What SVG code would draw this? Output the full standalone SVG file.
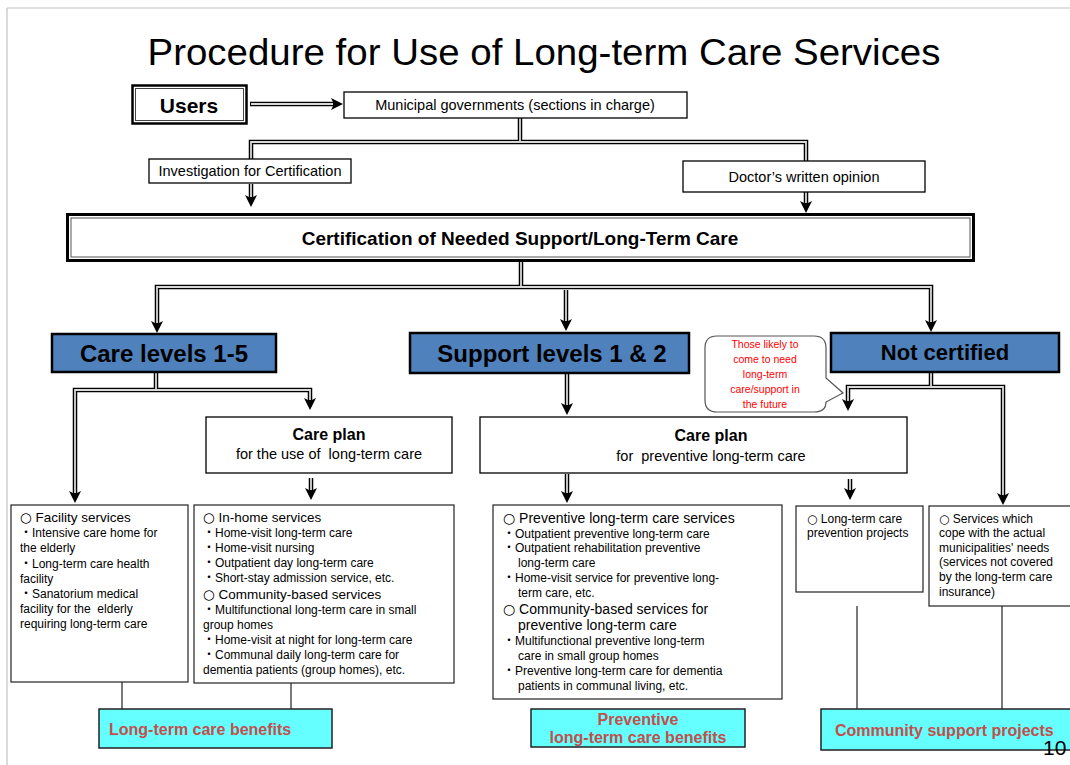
<svg xmlns="http://www.w3.org/2000/svg" width="1070" height="765" viewBox="0 0 1070 765">
<style>
text{font-family:"Liberation Sans","Noto Sans CJK JP",sans-serif;white-space:pre;fill:#000}
.cj{font-family:"DejaVu Sans","Noto Sans CJK JP",sans-serif}
.title{font-size:37px}
.cal{font-size:14.5px}
.calb{font-size:16px;font-weight:bold}
.big{font-size:24px;font-weight:bold}
.t{font-size:12px}
.h{font-size:13.5px}
.lab{font-size:16px;font-weight:bold;fill:#C0504D}
.red{font-size:10.5px;fill:#FF0000}
.box{fill:#fff;stroke:#000;stroke-width:1.3}
.sbox{fill:#fff;stroke:#222;stroke-width:1.2}
.blue{fill:#4F81BD;stroke:#000;stroke-width:2.5}
.cyan{fill:#66FFFF;stroke:#222;stroke-width:1.5}
.dlo{fill:none;stroke:#000;stroke-width:4.5;stroke-linejoin:miter}
.dli{fill:none;stroke:#d8d8d8;stroke-width:1.8;stroke-linejoin:miter}
.thin{fill:none;stroke:#222;stroke-width:1.2}
.mid{text-anchor:middle}
</style>
<defs>
<marker id="ah" markerUnits="userSpaceOnUse" markerWidth="12" markerHeight="12" viewBox="0 0 12 12" refX="4" refY="6" orient="auto-start-reverse">
<path d="M0,0 L12,6 L0,12 L3,6 Z" fill="#000"/>
</marker>
</defs>

<path d="M7,8 H1070 M7,8 V765" fill="none" stroke="#c4c4c4" stroke-width="1.2"/>

<text class="title mid" x="544" y="65" textLength="793" lengthAdjust="spacingAndGlyphs">Procedure for Use of Long-term Care Services</text>

<g id="connectors">
  <path class="dlo" d="M250,104 H335" marker-end="url(#ah)"/>
  <path class="dli" d="M251,104 H333"/>
  <path class="dlo" d="M520,118 V142 M251,159 V142 H806 V161"/>
  <path class="dli" d="M520,118 V142 M251,159 V142 H806 V161"/>
  <path class="dlo" d="M251,184 V199" marker-end="url(#ah)"/>
  <path class="dli" d="M251,184 V197"/>
  <path class="dlo" d="M806,192 V205" marker-end="url(#ah)"/>
  <path class="dli" d="M806,192 V203"/>
  <path class="dlo" d="M521,262 V287"/>
  <path class="dlo" d="M157,325 V287 H931 V324" marker-start="url(#ah)" marker-end="url(#ah)"/>
  <path class="dli" d="M521,262 V287"/>
  <path class="dli" d="M157,323 V287 H931 V322"/>
  <path class="dlo" d="M566,290 V323" marker-end="url(#ah)"/>
  <path class="dli" d="M566,290 V321"/>
  <path class="dlo" d="M156,373 V390"/>
  <path class="dlo" d="M75,495 V390 H310 V402" marker-start="url(#ah)" marker-end="url(#ah)"/>
  <path class="dli" d="M156,373 V390"/>
  <path class="dli" d="M75,493 V390 H310 V400"/>
  <path class="dlo" d="M311,478 V492" marker-end="url(#ah)"/>
  <path class="dli" d="M311,478 V490"/>
  <path class="dlo" d="M567,374 V407" marker-end="url(#ah)"/>
  <path class="dli" d="M567,374 V405"/>
  <path class="dlo" d="M931,372 V387"/>
  <path class="dlo" d="M848,403 V387 H1003 V497" marker-start="url(#ah)" marker-end="url(#ah)"/>
  <path class="dli" d="M931,372 V387"/>
  <path class="dli" d="M848,401 V387 H1003 V495"/>
  <path class="dlo" d="M567,474 V495" marker-end="url(#ah)"/>
  <path class="dli" d="M567,474 V493"/>
  <path class="dlo" d="M850,479 V492" marker-end="url(#ah)"/>
  <path class="dli" d="M850,479 V490"/>
  <path class="thin" d="M122,682 V709 M291,683 V709 M857,606 V709 M1002,606 V709"/>
</g>

<g id="users">
  <rect x="132.5" y="85.5" width="114" height="38" fill="#fff" stroke="#000" stroke-width="2.5"/>
  <rect x="135.5" y="88.5" width="108" height="32" fill="none" stroke="#444" stroke-width="1"/>
  <text x="189" y="113" class="mid" style="font-size:21px;font-weight:bold">Users</text>
</g>

<g id="municipal">
  <rect class="box" x="344" y="92" width="343" height="26"/>
  <text class="cal mid" x="515" y="110">Municipal governments (sections in charge)</text>
</g>

<g id="investigation">
  <rect class="box" x="149" y="159" width="202" height="24"/>
  <text class="cal mid" x="250" y="176">Investigation for Certification</text>
</g>

<g id="doctor">
  <rect class="box" x="683" y="161" width="242" height="31"/>
  <text class="cal mid" x="804" y="182">Doctor’s written opinion</text>
</g>

<g id="certification">
  <rect x="67.5" y="214.5" width="906" height="46" fill="#fff" stroke="#000" stroke-width="3"/>
  <rect x="71" y="218" width="899" height="39" fill="none" stroke="#555" stroke-width="1"/>
  <text class="mid" x="520" y="245" style="font-size:19px;font-weight:bold">Certification of Needed Support/Long-Term Care</text>
</g>

<g id="care-levels">
  <rect class="blue" x="52" y="334" width="224" height="38"/>
  <text class="big mid" x="164" y="362">Care levels 1-5</text>
</g>

<g id="support-levels">
  <rect class="blue" x="410" y="333" width="279" height="40"/>
  <text class="big mid" x="552" y="362">Support levels 1 &amp; 2</text>
</g>

<g id="not-certified">
  <rect class="blue" x="831" y="333" width="228" height="39"/>
  <text class="mid" x="945" y="360" style="font-size:22px;font-weight:bold">Not certified</text>
</g>

<g id="callout">
  <path d="M717,336 H814 Q826,336 826,348 V378 L843,393 L826,402 Q826,412 814,412 H717 Q705,412 705,400 V348 Q705,336 717,336 Z" fill="#fff" stroke="#555" stroke-width="1.2"/>
  <text class="red mid" x="765" y="348">Those likely to</text>
  <text class="red mid" x="765" y="363">come to need</text>
  <text class="red mid" x="765" y="378">long-term</text>
  <text class="red mid" x="765" y="393">care/support in</text>
  <text class="red mid" x="765" y="408">the future</text>
</g>

<g id="care-plan-left">
  <rect class="box" x="206" y="417" width="246" height="56"/>
  <text class="calb mid" x="329" y="440">Care plan</text>
  <text class="cal mid" x="329" y="459">for the use of  long-term care</text>
</g>

<g id="care-plan-mid">
  <rect class="box" x="480" y="417" width="427" height="56"/>
  <text class="calb mid" x="711" y="441">Care plan</text>
  <text class="cal mid" x="711" y="461">for  preventive long-term care</text>
</g>

<g id="facility">
  <rect class="sbox" x="11" y="505" width="177" height="177"/>
  <text class="h" x="20" y="522"><tspan class="cj">○</tspan> Facility services</text>
  <text class="t" x="20" y="537">・Intensive care home for</text>
  <text class="t" x="20" y="552">the elderly</text>
  <text class="t" x="20" y="568">・Long-term care health</text>
  <text class="t" x="20" y="583">facility</text>
  <text class="t" x="20" y="598">・Sanatorium medical</text>
  <text class="t" x="20" y="613">facility for the  elderly</text>
  <text class="t" x="20" y="628">requiring long-term care</text>
</g>

<g id="in-home">
  <rect class="sbox" x="194" y="505" width="260" height="178"/>
  <text class="h" x="203" y="522"><tspan class="cj">○</tspan> In-home services</text>
  <text class="t" x="203" y="537">・Home-visit long-term care</text>
  <text class="t" x="203" y="552">・Home-visit nursing</text>
  <text class="t" x="203" y="567">・Outpatient day long-term care</text>
  <text class="t" x="203" y="582">・Short-stay admission service, etc.</text>
  <text class="h" x="203" y="599"><tspan class="cj">○</tspan> Community-based services</text>
  <text class="t" x="203" y="614">・Multifunctional long-term care in small</text>
  <text class="t" x="203" y="629">group homes</text>
  <text class="t" x="203" y="644">・Home-visit at night for long-term care</text>
  <text class="t" x="203" y="659">・Communal daily long-term care for</text>
  <text class="t" x="203" y="674">dementia patients (group homes), etc.</text>
</g>

<g id="preventive-services">
  <rect class="sbox" x="493" y="505" width="289" height="194"/>
  <text class="h" x="503" y="523" style="font-size:14px"><tspan class="cj">○</tspan> Preventive long-term care services</text>
  <text class="t" x="503" y="538">・Outpatient preventive long-term care</text>
  <text class="t" x="503" y="552">・Outpatient rehabilitation preventive</text>
  <text class="t" x="518" y="567">long-term care</text>
  <text class="t" x="503" y="582">・Home-visit service for preventive long-</text>
  <text class="t" x="518" y="597">term care, etc.</text>
  <text class="h" x="503" y="614" style="font-size:14px"><tspan class="cj">○</tspan> Community-based services for</text>
  <text class="h" x="518" y="630" style="font-size:14px">preventive long-term care</text>
  <text class="t" x="503" y="645">・Multifunctional preventive long-term</text>
  <text class="t" x="518" y="660">care in small group homes</text>
  <text class="t" x="503" y="675">・Preventive long-term care for dementia</text>
  <text class="t" x="518" y="690">patients in communal living, etc.</text>
</g>

<g id="prevention-projects">
  <rect class="sbox" x="796" y="506" width="127" height="86"/>
  <text class="t" x="807" y="523"><tspan class="cj">○</tspan> Long-term care</text>
  <text class="t" x="807" y="537">prevention projects</text>
</g>

<g id="municipal-services">
  <rect class="sbox" x="929" y="506" width="150" height="100"/>
  <text class="t" x="939" y="523"><tspan class="cj">○</tspan> Services which</text>
  <text class="t" x="939" y="537">cope with the actual</text>
  <text class="t" x="939" y="552">municipalities' needs</text>
  <text class="t" x="939" y="566">(services not covered</text>
  <text class="t" x="939" y="581">by the long-term care</text>
  <text class="t" x="939" y="596">insurance)</text>
</g>

<g id="ltc-benefits">
  <rect class="cyan" x="99" y="709" width="233" height="39"/>
  <text class="lab" x="109" y="735">Long-term care benefits</text>
</g>

<g id="preventive-benefits">
  <rect class="cyan" x="531" y="709" width="214" height="38"/>
  <text class="lab mid" x="638" y="725">Preventive</text>
  <text class="lab mid" x="638" y="743">long-term care benefits</text>
</g>

<g id="community-support">
  <rect class="cyan" x="821" y="709" width="260" height="41"/>
  <text class="lab" x="835" y="736">Community support projects</text>
</g>

<text x="1043" y="755" style="font-size:21px">10</text>
</svg>
